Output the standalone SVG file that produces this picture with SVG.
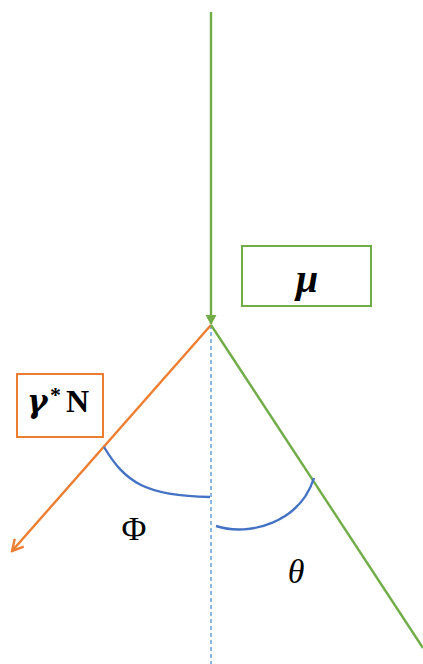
<svg xmlns="http://www.w3.org/2000/svg" width="423" height="664" viewBox="0 0 423 664">
<style>
.g{stroke:#70ad47;stroke-width:2.4;fill:none}
.o{stroke:#ed7d31;stroke-width:2.4;fill:none}
.b{stroke:#4472c4;stroke-width:2.4;fill:none}
.d{stroke:#5b9bd5;stroke-width:1.4;stroke-dasharray:4,3;fill:none}
.t{font-family:"Liberation Serif","DejaVu Serif",serif;fill:#000}
</style>
<defs>
<marker id="ag" markerWidth="12" markerHeight="12" refX="9" refY="6" orient="auto" markerUnits="userSpaceOnUse">
<path d="M0,0.5 L10,6 L0,11.5 Z" fill="#70ad47"/>
</marker>
<marker id="ao" markerWidth="14" markerHeight="14" refX="12" refY="7" orient="auto" markerUnits="userSpaceOnUse">
<path d="M1,1 L12,7 L1,13" fill="none" stroke="#ed7d31" stroke-width="2.4"/>
</marker>
</defs>
<g id="connectors">
<line class="d" x1="211" y1="325" x2="211" y2="664"/>
<line class="g" x1="211" y1="12" x2="211" y2="324" marker-end="url(#ag)"/>
<line class="o" x1="211" y1="325" x2="12" y2="551" marker-end="url(#ao)"/>
<line class="g" x1="211" y1="325" x2="423" y2="648"/>
<path class="b" d="M104,447 C125,482 145,496 210,497"/>
<path class="b" d="M216,526 C250,537 300,522 314,478"/>
</g>
<g id="mu">
<rect x="242" y="246" width="129" height="60" fill="#fff" stroke="#70ad47" stroke-width="2"/>
<text class="t" x="307" y="292" font-size="40" font-weight="bold" font-style="italic" text-anchor="middle">μ</text>
</g>
<g id="gammaN">
<rect x="17" y="374" width="86" height="63" fill="#fff" stroke="#ed7d31" stroke-width="2"/>
<text class="t" y="412" font-size="32" font-weight="bold"><tspan x="27" font-family="DejaVu Serif" font-style="italic" font-size="31">γ</tspan><tspan x="50" font-size="22" dy="-10">*</tspan><tspan x="66" dy="10">N</tspan></text>
</g>
<g id="phi">
<text class="t" x="134" y="540" font-size="34" text-anchor="middle">Φ</text>
</g>
<g id="theta">
<text class="t" x="296" y="583" font-size="34" font-style="italic" text-anchor="middle">θ</text>
</g>
</svg>
